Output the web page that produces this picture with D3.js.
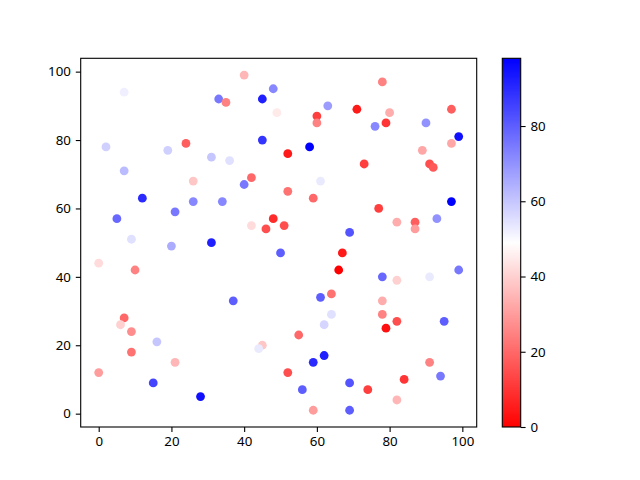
<!DOCTYPE html>
<html>
<head>
<meta charset="utf-8">
<script src="https://cdn.jsdelivr.net/npm/d3@7"></script>
<style>
  body { margin: 0; background: #fff; }
  text { font-family: "Noto Sans", sans-serif; }
</style>
</head>
<body>
<div id="chart"></div>
<script>
const width = 640, height = 480;
const plot = { left: 80.7, right: 476.7, top: 58.3, bottom: 427 };
const bar = { left: 502.3, right: 520.7 };
const fontSize = 13.3;

// point data: x, y and colour value
const xs = [0, 0, 2, 7, 7, 5, 9, 12, 10, 7, 6, 9, 9, 16, 15, 21, 28, 19, 24, 26,
  21, 26, 20, 31, 33, 35, 40, 36, 34, 40, 42, 31, 42, 37, 45, 44, 48, 45, 49, 45,
  52, 52, 48, 46, 51, 50, 55, 52, 56, 59, 59, 62, 58, 60, 60, 63, 61, 59, 61, 62,
  64, 64, 67, 66, 69, 69, 69, 74, 71, 73, 78, 80, 79, 76, 77, 78, 78, 78, 79, 82,
  82, 82, 82, 84, 87, 87, 89, 90, 91, 92, 93, 91, 91, 95, 94, 97, 97, 97, 99, 99];
const ys = [12, 44, 78, 94, 71, 57, 51, 63, 42, 28, 26, 24, 18, 21, 9, 15, 5, 77, 79, 68,
  59, 62, 49, 75, 92, 91, 99, 74, 62, 67, 69, 50, 55, 33, 20, 19, 95, 92, 88, 80,
  76, 65, 57, 54, 55, 47, 23, 12, 7, 15, 1, 17, 78, 87, 85, 90, 68, 63, 34, 26,
  29, 35, 47, 42, 53, 9, 1, 7, 89, 73, 97, 88, 85, 84, 60, 40, 33, 29, 25, 27,
  39, 4, 56, 10, 56, 54, 77, 85, 73, 72, 57, 40, 15, 27, 11, 89, 79, 62, 81, 42];
const cs = [30, 42, 58, 52, 62, 78, 55, 90, 25, 20, 40, 27, 22, 60, 85, 35, 95, 58, 18, 38,
  75, 72, 65, 60, 75, 25, 35, 55, 72, 75, 20, 92, 42, 80, 38, 53, 72, 92, 45, 88,
  5, 22, 8, 15, 15, 80, 20, 15, 80, 90, 30, 92, 98, 12, 25, 68, 53, 20, 80, 57,
  55, 22, 5, 0, 82, 82, 80, 12, 5, 12, 25, 33, 10, 72, 12, 78, 33, 25, 3, 15,
  40, 35, 33, 10, 18, 30, 32, 70, 15, 17, 70, 53, 25, 80, 75, 18, 32, 98, 95, 75];

const axisTicks = [0, 20, 40, 60, 80, 100];
const colorTicks = [0, 20, 40, 60, 80];

const data = xs.map((x, i) => ({ x: x, y: ys[i], c: cs[i] }));

const svg = d3.select("#chart").append("svg")
  .attr("width", width)
  .attr("height", height);

// 5% margins like matplotlib
const pad = (ext) => { const r = ext[1] - ext[0]; return [ext[0] - r * 0.05, ext[1] + r * 0.05]; };

const x = d3.scaleLinear().domain(pad(d3.extent(xs))).range([plot.left, plot.right]);
const y = d3.scaleLinear().domain(pad(d3.extent(ys))).range([plot.bottom, plot.top]);

const cmin = d3.min(cs), cmax = d3.max(cs);
const color = d3.scaleLinear()
  .domain([cmin, (cmin + cmax) / 2, cmax])
  .range(["#ff0000", "#ffffff", "#0000ff"]);

// POINTS
svg.append("g")
  .selectAll("circle")
  .data(data)
  .join("circle")
  .attr("cx", d => x(d.x))
  .attr("cy", d => y(d.y))
  .attr("r", 4.4)
  .attr("fill", d => color(d.c));

// AXES
const xAxis = svg.append("g")
  .attr("transform", `translate(0,${plot.bottom})`)
  .call(d3.axisBottom(x).tickValues(axisTicks).tickSize(4.9).tickPadding(4.9));

const yAxis = svg.append("g")
  .attr("transform", `translate(${plot.left},0)`)
  .call(d3.axisLeft(y).tickValues(axisTicks).tickSize(4.9).tickPadding(4.9));

[xAxis, yAxis].forEach(g => {
  g.select(".domain").remove();
  g.selectAll("line").attr("stroke", "#000").attr("stroke-width", 1.1);
  g.selectAll("text").attr("font-size", fontSize).attr("fill", "#000")
    .style("font-family", "'Noto Sans', sans-serif");
});

svg.append("rect")
  .attr("x", plot.left).attr("y", plot.top)
  .attr("width", plot.right - plot.left).attr("height", plot.bottom - plot.top)
  .attr("fill", "none").attr("stroke", "#000").attr("stroke-width", 1.1);

// COLORBAR
const cy = d3.scaleLinear().domain([cmin, cmax]).range([plot.bottom, plot.top]);

const grad = svg.append("defs").append("linearGradient")
  .attr("id", "cbar").attr("x1", 0).attr("y1", 1).attr("x2", 0).attr("y2", 0);
grad.selectAll("stop")
  .data(d3.range(0, 1.0001, 0.05))
  .join("stop")
  .attr("offset", d => d)
  .attr("stop-color", d => color(cmin + d * (cmax - cmin)));

svg.append("rect")
  .attr("x", bar.left).attr("y", plot.top)
  .attr("width", bar.right - bar.left).attr("height", plot.bottom - plot.top)
  .attr("fill", "url(#cbar)").attr("stroke", "#000").attr("stroke-width", 1.1);

const cAxis = svg.append("g")
  .attr("transform", `translate(${bar.right},0)`)
  .call(d3.axisRight(cy).tickValues(colorTicks).tickSize(4.9).tickPadding(4.9));
cAxis.select(".domain").remove();
cAxis.selectAll("line").attr("stroke", "#000").attr("stroke-width", 1.1);
cAxis.selectAll("text").attr("font-size", fontSize).attr("fill", "#000")
  .style("font-family", "'Noto Sans', sans-serif");
</script>
</body>
</html>
